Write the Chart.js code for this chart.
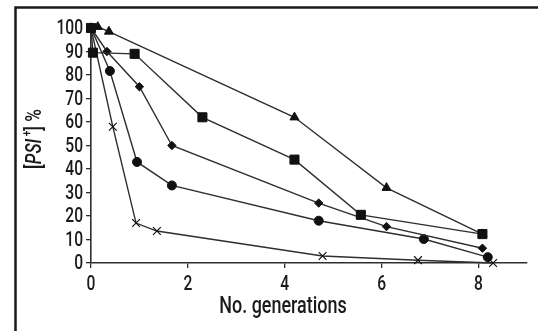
<!DOCTYPE html>
<html>
<head>
<meta charset="utf-8">
<script src="https://cdn.jsdelivr.net/npm/chart.js@4"></script>
<style>
  html, body { margin: 0; padding: 0; background: #fff; }
  #wrap { position: relative; width: 538px; height: 331px; }
</style>
</head>
<body>
<div id="wrap"><canvas id="c" width="538" height="331"></canvas></div>
<script>
// x ticks and y ticks
const xTicks = [0, 2, 4, 6, 8];
const yTicks = [0, 10, 20, 30, 40, 50, 60, 70, 80, 90, 100];

// series (generations, % [PSI+])
const squareX = [0, 0.04, 0.9, 2.3, 4.2, 5.57, 8.08];
const squareY = [100, 89.5, 89, 62, 44, 20.5, 12.3];

const triangleX = [0, 0.14, 0.37, 4.2, 6.1, 8.08];
const triangleY = [100, 100.5, 98.5, 62, 32, 12.3];

const diamondX = [0, 0.33, 1.0, 1.67, 4.7, 6.1, 8.08];
const diamondY = [100, 90, 75, 50, 25.5, 15.5, 6.3];

const circleX = [0, 0.39, 0.95, 1.67, 4.7, 6.87, 8.19];
const circleY = [100, 81.7, 43, 33, 18, 10.2, 2.5];

const crossX = [0, 0.45, 0.93, 1.36, 4.78, 6.75, 8.3];
const crossY = [100, 58, 17, 13.6, 3, 1.2, 0];

const FONT = "Roboto, 'Liberation Sans', sans-serif";
const SQUEEZE = 0.78; // reference uses a condensed face
const INK = '#1a1a1a';
const LINE = '#2e2e2e';

const pts = (xs, ys) => xs.map((x, i) => ({ x: x, y: ys[i] }));

function series(xs, ys, style, radius) {
    return {
        data: pts(xs, ys),
        borderColor: LINE,
        borderWidth: 1.4,
        pointStyle: style,
        pointRadius: radius,
        pointBackgroundColor: '#111',
        pointBorderColor: '#111',
        pointBorderWidth: style === 'crossRot' ? 1.2 : 1,
        showLine: true,
        clip: false,
        tension: 0
    };
}

// draw text squeezed horizontally
function narrowText(ctx, text, x, y, font, align) {
    ctx.save();
    ctx.font = font;
    const w = ctx.measureText(text).width * SQUEEZE;
    let left = x;
    if (align === 'center') left = x - w / 2;
    if (align === 'right') left = x - w;
    ctx.translate(left, y);
    ctx.scale(SQUEEZE, 1);
    ctx.textAlign = 'left';
    ctx.fillText(text, 0, 0);
    ctx.restore();
    return w;
}

// frame, tick labels and axis titles
const decor = {
    id: 'decor',
    afterDraw(chart) {
        const ctx = chart.ctx;
        const xs = chart.scales.x, ys = chart.scales.y;
        ctx.save();
        // open frame (left and top only, rest is cropped)
        ctx.strokeStyle = INK;
        ctx.lineWidth = 2.5;
        ctx.beginPath();
        ctx.moveTo(15.5, 331);
        ctx.lineTo(15.5, 7.5);
        ctx.lineTo(538, 7.5);
        ctx.stroke();

        ctx.fillStyle = INK;
        ctx.textBaseline = 'middle';
        const tickFont = '500 20px ' + FONT;
        yTicks.forEach(v => narrowText(ctx, String(v), 83, ys.getPixelForValue(v) + 1, tickFont, 'right'));
        xTicks.forEach(v => narrowText(ctx, String(v), xs.getPixelForValue(v), 285, tickFont, 'center'));

        // x title
        narrowText(ctx, 'No. generations', 283, 307, '500 23px ' + FONT, 'center');

        // y title: [PSI+] %
        const parts = [
            { t: '[', f: '500 22px ' + FONT, dy: 0 },
            { t: 'PSI', f: 'italic 500 22px ' + FONT, dy: 0 },
            { t: ' +', f: '500 13px ' + FONT, dy: -7 },
            { t: '] %', f: '500 22px ' + FONT, dy: 0 }
        ];
        let total = 0;
        parts.forEach(p => { ctx.font = p.f; p.w = ctx.measureText(p.t).width * SQUEEZE; total += p.w; });
        ctx.translate(35, 139);
        ctx.rotate(-Math.PI / 2);
        let x = -total / 2;
        parts.forEach(p => {
            narrowText(ctx, p.t, x, p.dy, p.f, 'left');
            x += p.w;
        });
        ctx.restore();
    }
};

new Chart(document.getElementById('c'), {
    type: 'scatter',
    data: {
        datasets: [
            series(squareX, squareY, 'rect', 6.4),
            series(triangleX, triangleY, 'triangle', 5.2),
            series(diamondX, diamondY, 'rectRot', 4.2),
            series(circleX, circleY, 'circle', 4.5),
            series(crossX, crossY, 'crossRot', 5.5)
        ]
    },
    options: {
        responsive: false,
        animation: false,
        layout: { padding: { left: 0, top: 28, right: 11, bottom: 0 } },
        plugins: {
            legend: { display: false },
            tooltip: { enabled: false }
        },
        scales: {
            x: {
                type: 'linear',
                min: 0,
                max: 9,
                afterFit: (scale) => { scale.height = 68; },
                afterBuildTicks: (scale) => {
                    scale.ticks = xTicks.map(v => ({ value: v }));
                },
                border: { display: true, color: LINE, width: 1.6 },
                grid: { display: true, drawOnChartArea: false, drawTicks: true, tickLength: 5, color: LINE, lineWidth: 1.3 },
                ticks: { display: false, autoSkip: false }
            },
            y: {
                type: 'linear',
                min: 0,
                max: 100,
                afterFit: (scale) => { scale.width = 91; },
                afterBuildTicks: (scale) => {
                    scale.ticks = yTicks.map(v => ({ value: v }));
                },
                border: { display: true, color: LINE, width: 1.6 },
                grid: { display: true, drawOnChartArea: false, drawTicks: true, tickLength: 5, color: LINE, lineWidth: 1.3 },
                ticks: { display: false, autoSkip: false }
            }
        }
    },
    plugins: [decor]
});
</script>
</body>
</html>
